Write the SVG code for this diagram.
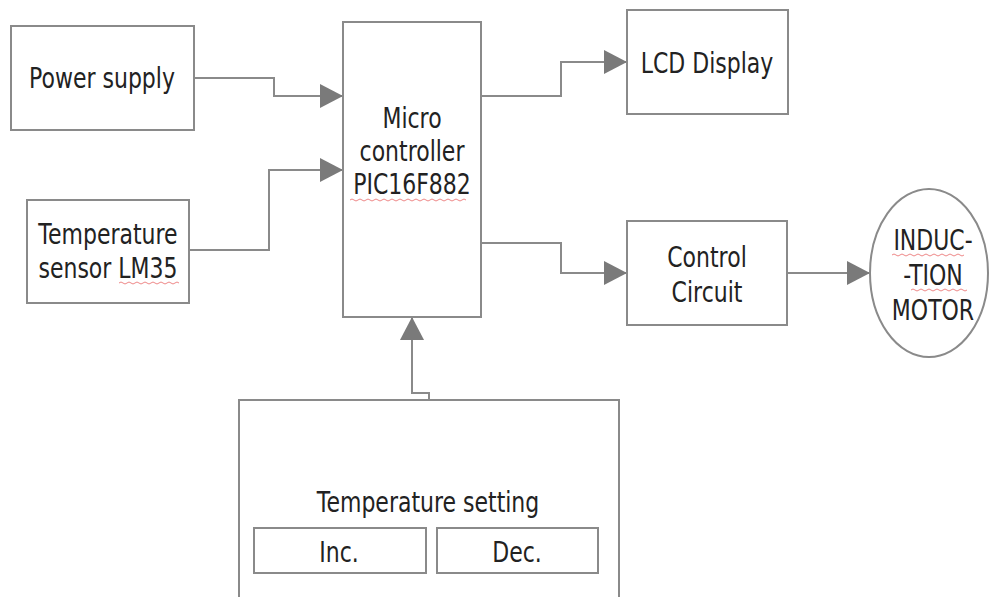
<svg xmlns="http://www.w3.org/2000/svg" width="989" height="597" viewBox="0 0 989 597">
<style>
.box{fill:#fff;stroke:#8a8a8a;stroke-width:2}
.con{fill:none;stroke:#8a8a8a;stroke-width:2}
.t{font-family:"DejaVu Sans",Verdana,sans-serif;font-size:22px;fill:#222;text-anchor:middle}
.sq{fill:none;stroke:#e88;stroke-width:1}
</style>
<defs>
<marker id="ah" markerUnits="userSpaceOnUse" markerWidth="24" markerHeight="26" refX="23" refY="12" orient="auto">
<path d="M0,0 L23,12 L0,24 Z" fill="#7a7a7a"/>
</marker>
</defs>
<rect width="989" height="597" fill="#fff"/>
<g id="connectors">
<path class="con" d="M194,78 H274 V96 H343" marker-end="url(#ah)"/>
<path class="con" d="M189,250 H269 V170 H343" marker-end="url(#ah)"/>
<path class="con" d="M481,96 H561 V62 H627" marker-end="url(#ah)"/>
<path class="con" d="M481,243 H561 V273 H627" marker-end="url(#ah)"/>
<path class="con" d="M787,273 H870" marker-end="url(#ah)"/>
<path class="con" d="M429,400 V393 H412 V317" marker-end="url(#ah)"/>
</g>
<g id="power">
<rect class="box" x="11" y="26" width="183" height="104"/>
<text class="t" transform="translate(102,88) scale(1,1.3)">Power supply</text>
</g>
<g id="sensor">
<rect class="box" x="27" y="200" width="162" height="103"/>
<text class="t" transform="translate(108,244) scale(1,1.3)">Temperature</text>
<text class="t" transform="translate(108,278) scale(1,1.3)">sensor LM35</text>
<path class="sq" d="M119,283 q2,-2 4,0 t4,0 t4,0 t4,0 t4,0 t4,0 t4,0 t4,0 t4,0 t4,0 t4,0 t4,0 t4,0 t4,0 t4,0"/>
</g>
<g id="micro">
<rect class="box" x="343" y="22" width="138" height="295"/>
<text class="t" transform="translate(412,128) scale(1,1.3)">Micro</text>
<text class="t" transform="translate(412,161) scale(1,1.3)">controller</text>
<text class="t" transform="translate(412,194) scale(1,1.3)">PIC16F882</text>
<path class="sq" d="M350,200 q2,-2 4,0 t4,0 t4,0 t4,0 t4,0 t4,0 t4,0 t4,0 t4,0 t4,0 t4,0 t4,0 t4,0 t4,0 t4,0 t4,0 t4,0 t4,0 t4,0 t4,0 t4,0 t4,0 t4,0 t4,0 t4,0 t4,0 t4,0 t4,0 t4,0"/>
</g>
<g id="lcd">
<rect class="box" x="627" y="10" width="161" height="104"/>
<text class="t" transform="translate(707,73) scale(1,1.3)">LCD Display</text>
</g>
<g id="control">
<rect class="box" x="627" y="221" width="160" height="104"/>
<text class="t" transform="translate(707,267) scale(1,1.3)">Control</text>
<text class="t" transform="translate(707,302) scale(1,1.3)">Circuit</text>
</g>
<g id="motor">
<ellipse class="box" cx="929" cy="273" rx="59" ry="84"/>
<text class="t" transform="translate(933,250) scale(1,1.3)">INDUC-</text>
<text class="t" transform="translate(933,285) scale(1,1.3)">-TION</text>
<text class="t" transform="translate(933,320) scale(1,1.3)">MOTOR</text>
<path class="sq" d="M892,255 q2,-2 4,0 t4,0 t4,0 t4,0 t4,0 t4,0 t4,0 t4,0 t4,0 t4,0 t4,0 t4,0 t4,0 t4,0 t4,0 t4,0 t4,0 t4,0"/>
<path class="sq" d="M911,290 q2,-2 4,0 t4,0 t4,0 t4,0 t4,0 t4,0 t4,0 t4,0 t4,0 t4,0 t4,0 t4,0 t4,0 t4,0"/>
</g>
<g id="tempset">
<rect class="box" x="239" y="400" width="380" height="215"/>
<text class="t" transform="translate(428,512) scale(1,1.3)">Temperature setting</text>
<g id="inc">
<rect class="box" x="254" y="528" width="172" height="45"/>
<text class="t" transform="translate(339,562) scale(1,1.3)">Inc.</text>
</g>
<g id="dec">
<rect class="box" x="437" y="528" width="161" height="45"/>
<text class="t" transform="translate(517,562) scale(1,1.3)">Dec.</text>
</g>
</g>
</svg>
